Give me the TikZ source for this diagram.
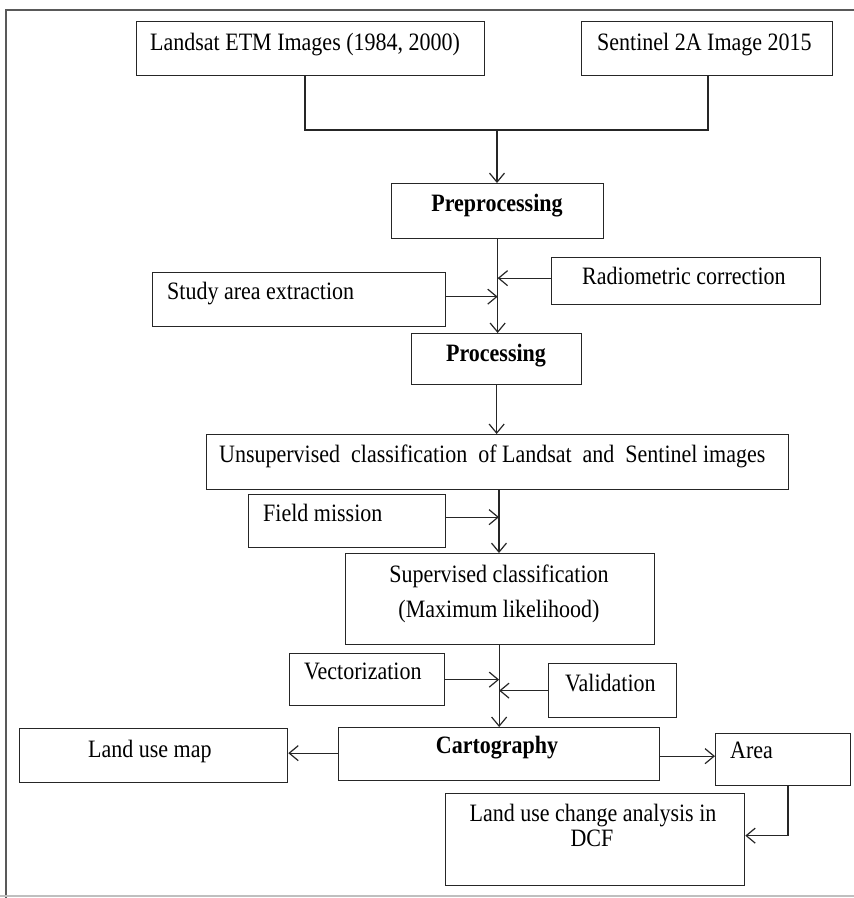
\documentclass[tikz,border=0pt]{standalone}
\usepackage{fontspec}
\setmainfont{Liberation Serif}[FakeStretch=0.88]
\usetikzlibrary{arrows.meta}
\begin{document}
\begin{tikzpicture}[x=1pt,y=-1pt,
  box/.style={draw=black!85, line width=1.3pt, inner sep=0pt, anchor=north west},
  txt/.style={inner sep=0pt, font=\fontsize{25}{28}\selectfont, anchor=base west},
  btxt/.style={txt, font=\fontsize{25}{28}\selectfont\bfseries},
  conn/.style={draw=black!85, line width=1.2pt},
  arr/.style={conn, -{Straight Barb[length=9pt,width=15pt,line width=1.2pt]}}]
\useasboundingbox (0,0) rectangle (854,898);
% page frame
\draw[line width=2pt, black!65] (6,898) -- (6,10) -- (854,10);
\draw[line width=2.5pt, black!25] (0,896) -- (854,896);

% boxes
\node[box, minimum width=348pt, minimum height=54pt] (landsat) at (136,21) {};
\node[box, minimum width=251pt, minimum height=54pt] (sentinel) at (581,21) {};
\node[box, minimum width=212pt, minimum height=55pt] (pre) at (391,183) {};
\node[box, minimum width=269pt, minimum height=47pt] (radio) at (551,257) {};
\node[box, minimum width=293pt, minimum height=54pt] (study) at (152,272) {};
\node[box, minimum width=170pt, minimum height=51pt] (proc) at (411,333) {};
\node[box, minimum width=582pt, minimum height=55pt] (unsup) at (206,434) {};
\node[box, minimum width=197pt, minimum height=53pt] (field) at (248,494) {};
\node[box, minimum width=309pt, minimum height=91pt] (sup) at (345,553) {};
\node[box, minimum width=155pt, minimum height=52pt] (vect) at (289,653) {};
\node[box, minimum width=128pt, minimum height=54pt] (valid) at (548,663) {};
\node[box, minimum width=321pt, minimum height=53pt] (carto) at (338,727) {};
\node[box, minimum width=268pt, minimum height=54pt] (landuse) at (19,728) {};
\node[box, minimum width=135pt, minimum height=52pt] (area) at (715,733) {};
\node[box, minimum width=299pt, minimum height=92pt] (dcf) at (445,793) {};

% texts
\node[txt] (t1) at (150,50) {Landsat ETM Images (1984, 2000)};
\node[txt] (t2) at (597,50) {Sentinel 2A Image 2015};
\node[btxt, anchor=base] (t3) at (497,211) {Preprocessing};
\node[txt] (t4) at (582,284) {Radiometric correction};
\node[txt] (t5) at (167,299) {Study area extraction};
\node[btxt, anchor=base] (t6) at (496,361) {Processing};
\node[txt] (t7) at (219,462) {Unsupervised\ \ classification\ \ of Landsat\ \ and\ \ Sentinel images};
\node[txt] (t8) at (263,521) {Field mission};
\node[txt, anchor=base] (t9) at (499,582) {Supervised classification};
\node[txt, anchor=base] (t10) at (499,617) {(Maximum likelihood)};
\node[txt] (t11) at (304,679) {Vectorization};
\node[txt] (t12) at (565,691) {Validation};
\node[btxt, anchor=base] (t13) at (497,753) {Cartography};
\node[txt] (t14) at (88,757) {Land use map};
\node[txt] (t15) at (730,758) {Area};
\node[txt, anchor=base] (t16) at (593,821) {Land use change analysis in};
\node[txt, anchor=base] (t17) at (592,846) {DCF};

% connectors
\coordinate (lx) at (305,0);
\coordinate (sx) at (708,0);
\coordinate (mj) at (497,130);
\draw[conn] (landsat.south -| lx) |- (mj) -| (sentinel.south -| sx);
\draw[arr] (mj) -- (pre.north -| mj);
\draw[arr] (pre.south) -- (proc.north -| pre.south);
\draw[arr] ([yshift=3pt]radio.west) -- ([yshift=3pt]radio.west -| pre.south);
\draw[arr] ([yshift=3pt]study.east) -- ([yshift=3pt]study.east -| pre.south);
\draw[arr] (proc.south) -- (unsup.north -| proc.south);
\coordinate (ux) at (499,0);
\draw[arr] (unsup.south -| ux) -- (sup.north -| ux);
\draw[arr] ([yshift=4pt]field.east) -- ([yshift=4pt]field.east -| ux);
\draw[arr] (sup.south -| carto.north) -- (carto.north);
\draw[arr] (vect.east) -- (vect.east -| carto.north);
\draw[arr] (valid.west) -- (valid.west -| carto.north);
\draw[arr] ([yshift=1pt]carto.west) -- ([yshift=1pt]carto.west -| landuse.east);
\draw[arr] ([yshift=-2pt]carto.east) -- ([yshift=-2pt]carto.east -| area.west);
\coordinate (ax) at (788,0);
\draw[arr] (area.south -| ax) |- ([yshift=4pt]dcf.east);
\end{tikzpicture}
\end{document}
